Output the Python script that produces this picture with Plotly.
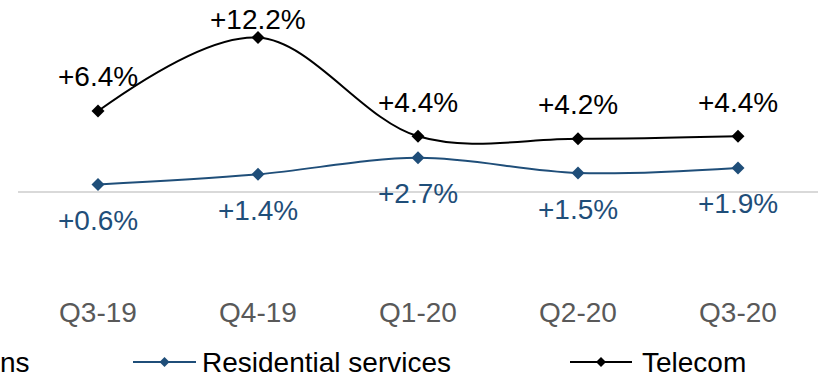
import plotly.graph_objects as go

quarters = ["Q3-19", "Q4-19", "Q1-20", "Q2-20", "Q3-20"]
residential = [0.6, 1.4, 2.7, 1.5, 1.9]
telecom = [6.4, 12.2, 4.4, 4.2, 4.4]

BLUE = "#1F4E79"
BLACK = "#000000"
GREY = "#595959"
FONT = "Liberation Sans, Arial, sans-serif"

# plot area in pixels: x 18..818, y 10..293
L, R, T, B = 18, 818, 10, 293
W, H = 825, 379
ZERO_PX = 192
PX_PER_UNIT = 12.66


def px(x):
    return (x - L) / (R - L)


def py(y):
    return (B - y) / (B - T)


fig = go.Figure()

series = [("Residential services", residential, BLUE),
          ("Telecom", telecom, BLACK)]
for name, vals, col in series:
    fig.add_trace(go.Scatter(
        x=quarters, y=vals, name=name, mode="lines+markers",
        line=dict(color=col, width=2, shape="spline", smoothing=1),
        marker=dict(symbol="diamond", size=10, color=col),
        showlegend=False,
    ))


def fmt(v):
    return f"+{v:.1f}%"


# value labels: telecom above, residential below (peak label kept inside the top)
telecom_shift = {"Q4-19": 18}
annotations = []
for q, v in zip(quarters, telecom):
    annotations.append(dict(x=q, y=v, text=fmt(v), showarrow=False,
                            yshift=telecom_shift.get(q, 34),
                            font=dict(size=28, color=BLACK, family=FONT)))
for q, v in zip(quarters, residential):
    annotations.append(dict(x=q, y=v, text=fmt(v), showarrow=False,
                            yshift=-36,
                            font=dict(size=28, color=BLUE, family=FONT)))

# legend drawn below the axis
shapes = []
legend_y = 362
for name, _, col in series:
    x0, x1, tx = (133, 196, 200) if col == BLUE else (570, 632, 640)
    shapes.append(dict(type="line", xref="paper", yref="paper",
                       x0=px(x0), x1=px(x1), y0=py(legend_y), y1=py(legend_y),
                       line=dict(color=col, width=2)))
    cx = (x0 + x1) / 2
    d = 5
    path = (f"M {px(cx - d)} {py(legend_y)} L {px(cx)} {py(legend_y - d)} "
            f"L {px(cx + d)} {py(legend_y)} L {px(cx)} {py(legend_y + d)} Z")
    shapes.append(dict(type="path", xref="paper", yref="paper", path=path,
                       fillcolor=col, line=dict(color=col, width=0)))
    annotations.append(dict(xref="paper", yref="paper", x=px(tx), y=py(legend_y),
                            xanchor="left", yanchor="middle", text=name,
                            showarrow=False,
                            font=dict(size=28, color=BLACK, family=FONT)))

annotations.append(dict(xref="paper", yref="paper", x=px(-2), y=py(legend_y),
                        xanchor="left", yanchor="middle", text="ns",
                        showarrow=False,
                        font=dict(size=28, color=BLACK, family=FONT)))

y_top = (ZERO_PX - T) / PX_PER_UNIT
y_bottom = -(B - ZERO_PX) / PX_PER_UNIT

fig.update_layout(
    width=W, height=H,
    margin=dict(l=L, r=W - R, t=T, b=H - B, autoexpand=False),
    paper_bgcolor="white", plot_bgcolor="white",
    font=dict(family=FONT),
    xaxis=dict(showgrid=False, showline=False, zeroline=False, ticks="",
               tickfont=dict(size=28, color=GREY, family=FONT),
               range=[-0.5, 4.5]),
    yaxis=dict(range=[y_bottom, y_top], showgrid=False, showticklabels=False,
               zeroline=True, zerolinecolor="#D9D9D9", zerolinewidth=2,
               showline=False),
    annotations=annotations,
    shapes=shapes,
)

fig.write_html("out.html")
